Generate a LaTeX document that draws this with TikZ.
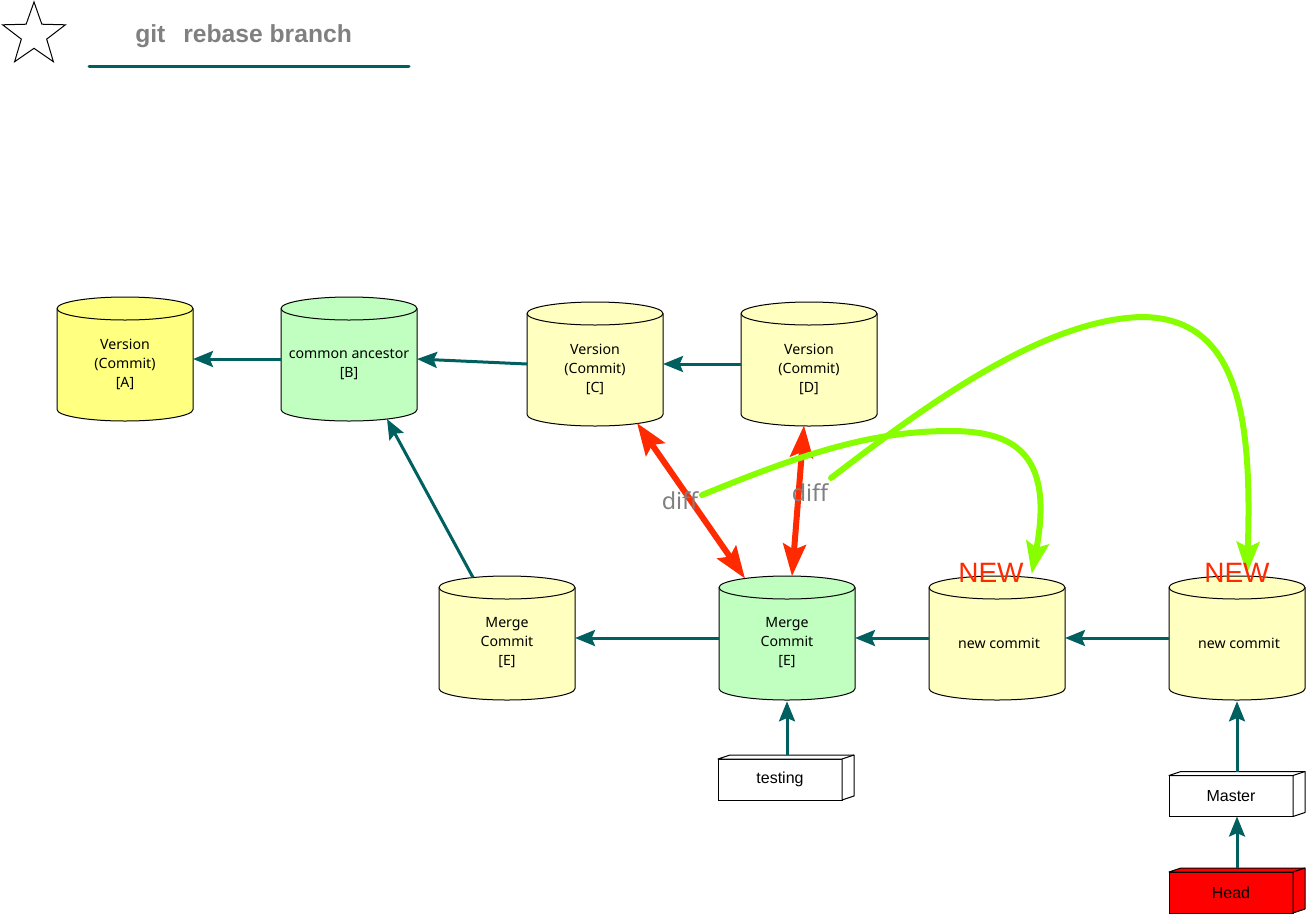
\documentclass[tikz,border=0pt]{standalone}
\usepackage{fontspec}
\setmainfont{Noto Sans}
\newfontfamily\arialfont{Liberation Sans}
\usetikzlibrary{arrows.meta}
\definecolor{tealc}{HTML}{005F5F}
\definecolor{redarr}{HTML}{FF2A00}
\definecolor{greenarr}{HTML}{88FF00}
\definecolor{cylyellow}{HTML}{FFFFC0}
\definecolor{cylbright}{HTML}{FFFF80}
\definecolor{cylgreen}{HTML}{C0FFC0}
\definecolor{txtgray}{HTML}{808080}
\newcommand{\cylbody}[3]{%
  \filldraw[fill=#3, draw=black, line width=0.75pt]
    ({#1-68},{#2+11.5}) -- ({#1-68},{#2+112.5})
    arc[start angle=180, end angle=360, x radius=51pt, y radius=8.625pt]
    -- ({#1+68},{#2+11.5})
    arc[start angle=0, end angle=180, x radius=51pt, y radius=8.625pt] -- cycle;
  \draw[line width=0.75pt] ({#1-68},{#2+11.5})
    arc[start angle=180, end angle=360, x radius=51pt, y radius=8.625pt];
}
\newcommand{\boxdepth}[2]{%
  \filldraw[fill=#2, draw=black, line width=0.75pt, line join=round]
    (#1.north west) -- ([shift={(12,-4)}]#1.north west)
    -- ([shift={(12,-4)}]#1.north east) -- ([shift={(12,-4)}]#1.south east)
    -- (#1.south east) -- (#1.north east) -- cycle;
  \draw[line width=0.75pt] (#1.north east) -- ([shift={(12,-4)}]#1.north east);
}
\tikzset{
  cylnode/.style={rectangle, minimum width=102pt, minimum height=93pt, inner sep=0pt, outer sep=0pt},
  cyltext/.style={align=center, inner sep=0pt, font=\fontsize{10.6pt}{14.25pt}\selectfont},
  boxfront/.style={draw=black, line width=0.75pt, minimum width=93pt, minimum height=30.75pt,
    inner sep=0pt, outer sep=0pt, font=\arialfont\fontsize{12pt}{14pt}\selectfont},
  tealarr/.style={draw=tealc, line width=2.25pt, -{Stealth[length=15pt, width=12pt, inset=2.5pt]}},
  redarrow/.style={draw=redarr, line width=4.5pt,
    {Stealth[length=24pt, width=17pt, inset=4pt]}-{Stealth[length=24pt, width=17pt, inset=4pt]}},
  greenarrow/.style={draw=greenarr, line width=4.5pt, line cap=round,
    -{Stealth[length=24pt, width=17pt, inset=4pt]}},
  difflabel/.style={text=txtgray, inner sep=0pt, font=\fontsize{17.5pt}{20pt}\selectfont},
  newlabel/.style={text=redarr, inner sep=0pt, font=\arialfont\fontsize{21pt}{24pt}\selectfont},
  titletext/.style={text=txtgray, inner sep=0pt, font=\arialfont\bfseries\fontsize{18.5pt}{22pt}\selectfont},
}
\begin{document}
\begin{tikzpicture}[x=0.75pt, y=-0.75pt]
\useasboundingbox (0,0) rectangle (1306,914);

% title
\draw[line width=0.75pt, line join=miter, shift={(34,35)}]
  (90:24.75pt) -- (126:10pt) -- (162:24.75pt) -- (198:10pt) -- (234:24.75pt)
  -- (270:10pt) -- (306:24.75pt) -- (342:10pt) -- (18:24.75pt) -- (54:10pt) -- cycle;
\node[titletext, anchor=base west] (title1) at (135,42) {git};
\node[titletext, anchor=base west] (title2) at (183,42) {rebase branch};
\coordinate (ul1) at (89,66);
\coordinate (ul2) at (409,66);
\draw[draw=tealc, line width=2.25pt, line cap=round] (ul1) -- (ul2);

% cylinders
\cylbody{125}{297}{cylbright}
\node[cylnode] (A) at (125,359) {};
\node[cyltext] (At) at (125,364) {Version\\(Commit)\\{}[A]};

\cylbody{349}{297}{cylgreen}
\node[cylnode] (B) at (349,359) {};
\node[cyltext] (Bt) at (349,364.5) {common ancestor\\{}[B]};

\cylbody{595}{302}{cylyellow}
\node[cylnode] (C) at (595,364) {};
\node[cyltext] (Ct) at (595,369) {Version\\(Commit)\\{}[C]};

\cylbody{809}{302}{cylyellow}
\node[cylnode] (D) at (809,364) {};
\node[cyltext] (Dt) at (809,369) {Version\\(Commit)\\{}[D]};

\cylbody{507}{576}{cylyellow}
\node[cylnode] (E1) at (507,638) {};
\node[cyltext] (E1t) at (507,643) {Merge\\Commit\\{}[E]};

\cylbody{787}{576}{cylgreen}
\node[cylnode] (E2) at (787,638) {};
\node[cyltext] (E2t) at (787,643) {Merge\\Commit\\{}[E]};

\cylbody{997}{576}{cylyellow}
\node[cylnode] (N1) at (997,638) {};
\node[cyltext] (N1t) at (999,643) {new commit};

\cylbody{1237}{576}{cylyellow}
\node[cylnode] (N2) at (1237,638) {};
\node[cyltext] (N2t) at (1239,643) {new commit};

% pointer boxes
\node[boxfront, fill=white] (testing) at (780,779.5) {testing};
\boxdepth{testing}{white}
\node[boxfront, fill=white] (master) at (1231,796) {Master};
\boxdepth{master}{white}
\node[boxfront, fill=red] (head) at (1231,892.5) {Head};
\boxdepth{head}{red}
\coordinate (testTop) at ([yshift=3pt]testing.north);
\coordinate (masterTop) at ([yshift=3pt]master.north);
\coordinate (headTop) at ([yshift=3pt]head.north);

% teal connectors
\draw[tealarr] (B.west) -- (A.east);
\draw[tealarr] (C.west) -- (B.east);
\draw[tealarr] (D.west) -- (C.east);
\draw[tealarr] ([xshift=-25.5pt,yshift=-1.1pt]E1.north) -- ([xshift=28.5pt,yshift=1.5pt]B.south);
\draw[tealarr] (E2.west) -- (E1.east);
\draw[tealarr] (N1.west) -- (E2.east);
\draw[tealarr] (N2.west) -- (N1.east);
\draw[tealarr] (E2.south |- testTop) -- ([yshift=-1pt]E2.south);
\draw[tealarr] (N2.south |- masterTop) -- ([yshift=-1pt]N2.south);
\draw[tealarr] (N2.south |- headTop) -- (N2.south |- master.south);

% red diff arrows
\draw[redarrow] ([xshift=31.5pt,yshift=2.25pt]C.south) -- ([xshift=-31.5pt,yshift=-1.9pt]E2.north);
\draw[redarrow] ([xshift=-3.75pt,yshift=0.5pt]D.south) -- ([xshift=3.75pt,yshift=-0.2pt]E2.north);

% diff labels
\node[difflabel] (diff1) at (680,501) {diff};
\node[difflabel] (diff2) at (810,492.5) {diff};

% green curves
\coordinate (g1s) at (702,495);
\coordinate (g2s) at (831,478);
\draw[greenarrow] (g1s) .. controls (800,455) and (870,431) .. (950,431)
  .. controls (1010,431) and (1055,450) .. ([xshift=26pt,yshift=1.5pt]N1.north);
\draw[greenarrow] (g2s) .. controls (920,410) and (1040,320) .. (1141,317)
  .. controls (1240,317) and (1252,420) .. ([xshift=7.5pt,yshift=1.5pt]N2.north);

% NEW labels
\node[newlabel] (new1) at (991,572.5) {NEW};
\node[newlabel] (new2) at (1237,572.5) {NEW};
\end{tikzpicture}
\end{document}
